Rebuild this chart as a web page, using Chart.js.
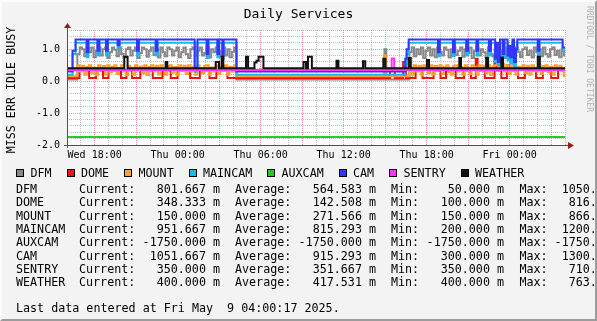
<!DOCTYPE html>
<html>
<head>
<meta charset="utf-8">
<title>Daily Services</title>
<script src="https://cdn.jsdelivr.net/npm/chart.js@4.4.1/dist/chart.umd.min.js"></script>
<style>
  html, body { margin: 0; padding: 0; background: #f3f3f3; }
  #graph { position: relative; width: 597px; height: 321px; overflow: hidden; background: #f3f3f3;
           font-family: "DejaVu Sans Mono", monospace; color: #000; }
  #graph canvas { position: absolute; left: 0; top: 0; }
  .txt { position: absolute; white-space: pre; margin: 0; }
  #title { left: 0; width: 597px; top: 6px; text-align: center; font-size: 13px; line-height: 16px; }
  #ylabel { left: -69px; top: 82px; width: 160px; text-align: center; font-size: 11.7px; line-height: 16px; transform: rotate(-90deg); }
  #credit { left: 529px; top: 54px; width: 120px; text-align: center; font-size: 8px; line-height: 10px; color: #b0b0b0; transform: rotate(90deg); }
  .sw { position: absolute; width: 8px; height: 8px; box-sizing: border-box; border: 1px solid #000; top: 169px; }
  .lg { font-size: 11.7px; line-height: 14px; top: 166px; }
  .st { font-size: 11.7px; line-height: 14px; }
  .num { text-align: right; width: 110px; }
  #stamp { left: 16px; top: 301px; font-size: 11.7px; line-height: 14px; }
  #edge { position: absolute; left: 0; top: 0; width: 597px; height: 321px; box-sizing: border-box;
          border-top: 2px solid #fcfcfc; border-left: 2px solid #fcfcfc; border-right: 2px solid #9c9c9c; border-bottom: 2px solid #9c9c9c; }
</style>
</head>
<body>
<div id="graph">
  <canvas id="chart" width="597" height="321"></canvas>
  <div id="title" class="txt">Daily Services</div>
  <div id="ylabel" class="txt">MISS ERR IDLE BUSY</div>
  <div id="credit" class="txt">RRDTOOL / TOBI OETIKER</div>
  <div id="stamp" class="txt">Last data entered at Fri May  9 04:00:17 2025.</div>
</div>
<script>
// hours counted from Wed 16:00 (0) to Fri 04:00 (36)
var timeTicks = [2, 8, 14, 20, 26, 32];
var timeLabels = ['Wed 18:00', 'Thu 00:00', 'Thu 06:00', 'Thu 12:00', 'Thu 18:00', 'Fri 00:00'];

var seriesNames = ['DFM', 'DOME', 'MOUNT', 'MAINCAM', 'AUXCAM', 'CAM', 'SENTRY', 'WEATHER'];
var seriesColors = ['#888888', '#ee1111', '#f8a030', '#1cb8ec', '#22cc22', '#3434ff', '#ff33ff', '#111111'];

// 10 minute samples while the services are busy
var dfmRun1 = [0.85, 1.05, 1.0, 0.78, 1.05, 0.9, 1.05, 0.75, 0.95, 1.05, 0.8, 1.0, 1.05, 0.72, 0.9, 1.05, 0.98, 0.78, 1.05, 0.85,
    0.75, 1.0, 1.05, 0.8, 0.95, 1.05, 0.72, 0.88, 1.05, 1.0, 0.76, 0.95, 1.05, 0.82, 1.0, 0.74, 1.05, 0.9, 0.78, 1.05,
    1.0, 0.8, 0.95, 1.05, 0.75, 0.9, 1.05, 0.85, 0.72, 1.0, 1.05, 0.78, 0.95, 1.05, 0.8, 0.88, 1.05, 0.74, 1.0, 0.9,
    1.05, 0.78, 0.95, 1.05, 0.8, 1.0, 0.75, 0.92, 1.05];
var dfmRun2 = [0.9, 1.05, 0.78, 1.0, 0.85, 1.05, 0.72, 0.95, 1.05, 0.8, 1.0, 0.75, 1.05, 0.92, 0.8, 1.05, 0.98, 0.74, 1.0, 1.05,
    0.82, 0.95, 1.05, 0.76, 1.0, 0.88, 1.05, 0.72, 0.95, 1.05, 0.8, 1.0, 0.9, 0.75, 1.05, 0.85, 0.78, 1.0, 1.05, 0.8,
    0.95, 0.72, 1.05, 0.88, 1.0, 0.78, 1.05, 0.92, 0.75, 1.0, 1.05, 0.82, 0.95, 0.74, 1.05, 0.9, 1.0, 0.78, 1.05, 0.85,
    0.76, 1.0, 1.05, 0.82, 0.95, 0.75, 1.0, 0.8];
var dfmSteps = [[0, 0.05], [12.25, 0.05], [22.95, 1.0], [23.08, 0.05], [36, 0.8]];

var mountRun1 = [0.5, 0.3, 0.48, 0.2, 0.45, 0.5, 0.25, 0.42, 0.18, 0.5, 0.35, 0.47, 0.2, 0.5, 0.28, 0.45, 0.5, 0.22, 0.4, 0.5,
    0.3, 0.18, 0.48, 0.42, 0.2, 0.5, 0.33, 0.46, 0.25, 0.5, 0.19, 0.44, 0.5, 0.3, 0.48, 0.21, 0.5, 0.38, 0.2, 0.47,
    0.5, 0.26, 0.44, 0.18, 0.5, 0.35, 0.48, 0.22, 0.5, 0.3, 0.45, 0.2, 0.5, 0.4, 0.25, 0.48, 0.5, 0.2, 0.43, 0.3,
    0.5, 0.22, 0.46, 0.35, 0.5, 0.2, 0.45, 0.3, 0.5];
var mountRun2 = [0.45, 0.2, 0.5, 0.3, 0.48, 0.18, 0.5, 0.42, 0.25, 0.5, 0.2, 0.47, 0.35, 0.5, 0.22, 0.45, 0.5, 0.28, 0.2, 0.48,
    0.5, 0.3, 0.44, 0.2, 0.5, 0.38, 0.22, 0.5, 0.45, 0.2, 0.5, 0.33, 0.48, 0.25, 0.5, 0.19, 0.46, 0.5, 0.65, 0.4,
    0.55, 0.3, 0.5, 0.22, 0.48, 0.5, 0.2, 0.45, 0.35, 0.5, 0.25, 0.48, 0.2, 0.5, 0.42, 0.3, 0.5, 0.22, 0.47, 0.5,
    0.28, 0.45, 0.2, 0.5, 0.35, 0.48, 0.3, 0.15];
var mountSteps = [[0, 0.15], [12.25, 0.15], [22.9, 0.8], [23.05, 0.15], [36, 0.15]];

// [hour, value] change points
var domeSteps = [[0, 0.1], [0.9, 0.33], [1.6, 0.1], [2.1, 0.33], [2.6, 0.1], [3.0, 0.33], [3.9, 0.1], [4.3, 0.33], [4.7, 0.1],
    [5.3, 0.33], [6.2, 0.1], [6.9, 0.33], [7.5, 0.1], [8.0, 0.33], [8.9, 0.1], [9.6, 0.33], [10.3, 0.1], [10.8, 0.45],
    [11.0, 0.33], [11.6, 0.1], [23.35, 0.34], [23.7, 0.1], [24.3, 0.6], [24.5, 0.1], [25.2, 0.33], [25.7, 0.1],
    [26.5, 0.33], [27.0, 0.1], [27.4, 0.33], [28.1, 0.1], [28.7, 0.33], [29.2, 0.1], [29.55, 0.7], [29.68, 0.33],
    [30.2, 0.1], [30.9, 0.8], [31.05, 0.33], [31.4, 0.1], [31.8, 0.5], [32.0, 0.33], [32.6, 0.1], [33.1, 0.33],
    [33.9, 0.1], [34.4, 0.33], [35.0, 0.1], [35.5, 0.35], [36, 0.35]];
var maincamSteps = [[0, 0.2], [0.4, 0.85], [0.62, 1.2], [1.42, 0.75], [1.55, 1.2], [2.2, 0.8], [2.34, 1.2], [2.82, 0.8],
    [2.95, 1.2], [3.66, 1.02], [3.8, 1.2], [5.06, 0.8], [5.2, 1.2], [6.41, 0.8], [6.54, 1.2], [9.23, 0.3], [9.43, 1.2],
    [10.1, 0.72], [10.22, 1.2], [10.87, 0.75], [11.0, 1.2], [11.23, 0.7], [11.32, 1.2], [12.25, 0.2],
    [24.45, 0.5], [24.55, 0.85], [24.7, 1.2], [26.82, 0.78], [26.95, 1.2], [27.9, 0.78], [28.03, 1.2], [28.86, 0.8],
    [29.0, 1.2], [29.6, 0.8], [29.72, 1.2], [30.5, 0.8], [30.65, 1.2], [30.95, 0.6], [31.05, 1.1], [31.15, 0.5],
    [31.3, 1.2], [31.5, 0.72], [31.62, 1.2], [31.85, 0.65], [31.95, 1.0], [32.05, 0.55], [32.2, 1.2], [32.32, 0.45],
    [32.45, 0.9], [32.55, 1.2], [34.03, 0.82], [34.15, 1.2], [35.83, 0.95], [36, 0.95]];
var auxcamSteps = [[0, -1.75], [36, -1.75]];
var camSteps = [[0, 0.3], [0.4, 0.95], [0.62, 1.3], [1.42, 0.9], [1.55, 1.3], [2.2, 0.95], [2.34, 1.3], [2.82, 0.95],
    [2.95, 1.3], [3.66, 1.12], [3.8, 1.3], [5.06, 0.95], [5.2, 1.3], [6.41, 0.95], [6.54, 1.3], [9.23, 0.4], [9.43, 1.3],
    [10.1, 0.85], [10.22, 1.3], [10.87, 0.85], [11.0, 1.3], [11.23, 0.8], [11.32, 1.3], [12.25, 0.3],
    [24.45, 0.7], [24.55, 1.0], [24.7, 1.3], [26.82, 0.9], [26.95, 1.3], [27.9, 0.9], [28.03, 1.3], [28.86, 0.95],
    [29.0, 1.3], [29.6, 0.95], [29.72, 1.3], [30.5, 0.95], [30.65, 1.3], [30.95, 0.7], [31.05, 1.2], [31.15, 0.6],
    [31.3, 1.3], [31.5, 0.85], [31.62, 1.3], [31.85, 0.8], [31.95, 1.1], [32.05, 0.75], [32.2, 1.3], [32.32, 0.6],
    [32.45, 1.0], [32.55, 1.3], [34.03, 0.95], [34.15, 1.3], [35.83, 1.05], [36, 1.05]];
var sentrySteps = [[0, 0.35], [23.47, 0.71], [23.65, 0.35], [36, 0.35]];
var weatherSteps = [[0, 0.4], [4.14, 0.76], [4.38, 0.4], [7.13, 0.6], [7.25, 0.4], [10.75, 0.6], [10.99, 0.4], [11.18, 0.76],
    [11.3, 0.4], [12.94, 0.76], [13.09, 0.4], [13.55, 0.58], [13.7, 0.64], [13.85, 0.76], [14.2, 0.4], [17.1, 0.6],
    [17.28, 0.4], [17.42, 0.76], [17.7, 0.4], [19.48, 0.64], [19.62, 0.4], [21.4, 0.62], [21.56, 0.4], [22.87, 0.7],
    [23.02, 0.4], [24.7, 0.72], [24.85, 0.4], [26.02, 0.66], [26.17, 0.4], [28.36, 0.72], [28.48, 0.4], [30.3, 0.72],
    [30.44, 0.4], [31.4, 0.74], [31.52, 0.4], [34.03, 0.76], [34.18, 0.4], [36, 0.4]];

// legend numbers (milli units)
var statCurrent = [801.667, 348.333, 150.000, 951.667, -1750.000, 1051.667, 350.000, 400.000];
var statAverage = [564.583, 142.508, 271.566, 815.293, -1750.000, 915.293, 351.667, 417.531];
var statMin = [50.000, 100.000, 150.000, 200.000, -1750.000, 300.000, 350.000, 400.000];
var statMax = [1050.000, 816.667, 866.667, 1200.000, -1750.000, 1300.000, 710.000, 763.333];

var STEP = 1 / 6;

var run = function (start, vals) {
    return vals.map(function (v, i) { return [start + i * STEP, v]; });
};
var merge = function () {
    var all = [];
    for (var i = 0; i < arguments.length; i++) all = all.concat(arguments[i]);
    return all.sort(function (a, b) { return a[0] - b[0]; });
};

var seriesPoints = [
    merge(dfmSteps, run(0.75, dfmRun1), run(24.75, dfmRun2)),
    domeSteps,
    merge(mountSteps, run(0.75, mountRun1), run(24.75, mountRun2)),
    maincamSteps,
    auxcamSteps,
    camSteps,
    sentrySteps,
    weatherSteps
];

var graph = document.getElementById('graph');
var addText = function (cls, left, top, text) {
    var d = document.createElement('div');
    d.className = 'txt ' + cls;
    d.style.left = left + 'px';
    d.style.top = top + 'px';
    d.textContent = text;
    graph.appendChild(d);
    return d;
};

// legend row
var lx = 16;
seriesNames.forEach(function (name, i) {
    var sw = document.createElement('div');
    sw.className = 'sw';
    sw.style.left = lx + 'px';
    sw.style.background = seriesColors[i];
    graph.appendChild(sw);
    var t = addText('lg', lx + 14.5, 166, name);
    lx += 14.5 + t.offsetWidth + 15;
});

// stats block, one GPRINT column at a time
var fmt = function (v) { return v.toFixed(3) + ' m'; };
var cols = [
    { label: 'Current:', at: 79, end: 220, vals: statCurrent },
    { label: 'Average:', at: 235, end: 376, vals: statAverage },
    { label: 'Min:', at: 391, end: 504, vals: statMin },
    { label: 'Max:', at: 519.5, end: 632, vals: statMax }
];
seriesNames.forEach(function (name, i) {
    var top = 182 + i * 13.3;
    addText('st', 16, top, name);
    cols.forEach(function (c) {
        addText('st', c.at, top, c.label);
        addText('st num', c.end - 110, top, fmt(c.vals[i]));
    });
});

var edge = document.createElement('div');
edge.id = 'edge';
graph.appendChild(edge);

var isWhole = function (v) { return Math.abs(v - Math.round(v)) < 1e-6; };

var canvasBg = {
    id: 'canvasBg',
    beforeDraw: function (chart) {
        var a = chart.chartArea, c = chart.ctx;
        c.save();
        c.fillStyle = '#ffffff';
        c.fillRect(a.left, a.top, a.right - a.left, a.bottom - a.top);
        c.restore();
    }
};

var axes = {
    id: 'axes',
    afterDraw: function (chart) {
        var a = chart.chartArea, c = chart.ctx;
        var x0 = Math.round(a.left) + 0.5, y0 = Math.round(a.bottom) + 0.5;
        c.save();
        c.strokeStyle = '#505050';
        c.lineWidth = 1;
        c.beginPath();
        c.moveTo(x0, a.bottom + 3);
        c.lineTo(x0, a.top - 3);
        c.moveTo(a.left - 3, y0);
        c.lineTo(a.right + 4, y0);
        c.stroke();
        c.fillStyle = '#9a1a1a';
        c.beginPath();
        c.moveTo(x0 - 3.5, a.top - 2);
        c.lineTo(x0 + 3.5, a.top - 2);
        c.lineTo(x0, a.top - 7);
        c.closePath();
        c.fill();
        c.beginPath();
        c.moveTo(a.right + 3, y0 - 3.5);
        c.lineTo(a.right + 3, y0 + 3.5);
        c.lineTo(a.right + 9, y0);
        c.closePath();
        c.fill();
        c.restore();
    }
};

var datasets = seriesNames.map(function (name, i) {
    return {
        label: name,
        data: seriesPoints[i].map(function (p) { return { x: p[0], y: p[1] }; }),
        borderColor: seriesColors[i],
        backgroundColor: seriesColors[i],
        borderWidth: 2,
        stepped: true,
        pointRadius: 0,
        fill: false,
        order: seriesNames.length - i
    };
});

var tickFont = { family: 'DejaVu Sans Mono', size: 10 };

new Chart(document.getElementById('chart').getContext('2d'), {
    type: 'line',
    data: { datasets: datasets },
    options: {
        responsive: false,
        animation: false,
        events: [],
        layout: { padding: { left: 0, top: 30, right: 32, bottom: 156 } },
        plugins: { legend: { display: false }, tooltip: { enabled: false }, title: { display: false } },
        scales: {
            x: {
                type: 'linear', min: 0, max: 36,
                afterFit: function (s) { s.height = 20; },
                ticks: {
                    stepSize: 1, autoSkip: false, maxRotation: 0, padding: 4, font: tickFont, color: '#000',
                    callback: function (v) { var k = timeTicks.indexOf(v); return k < 0 ? '' : timeLabels[k]; }
                },
                grid: {
                    drawTicks: false, lineWidth: 1,
                    color: function (c) { return ((c.tick.value - 2) % 3 + 3) % 3 === 0 ? 'rgba(220,60,60,0.55)' : 'rgba(140,140,140,0.55)'; }
                },
                border: { display: false, dash: [1, 1] }
            },
            y: {
                min: -2, max: 1.6,
                afterFit: function (s) { s.width = 67; },
                ticks: {
                    stepSize: 0.2, autoSkip: false, padding: 7, font: tickFont, color: '#000',
                    callback: function (v) { return isWhole(v) ? (Math.round(v) + 0).toFixed(1) : ''; }
                },
                grid: {
                    drawTicks: false, lineWidth: 1,
                    color: function (c) { return isWhole(c.tick.value) ? 'rgba(220,60,60,0.55)' : 'rgba(140,140,140,0.55)'; }
                },
                border: { display: false, dash: [1, 1] }
            }
        }
    },
    plugins: [canvasBg, axes]
});
</script>
</body>
</html>
